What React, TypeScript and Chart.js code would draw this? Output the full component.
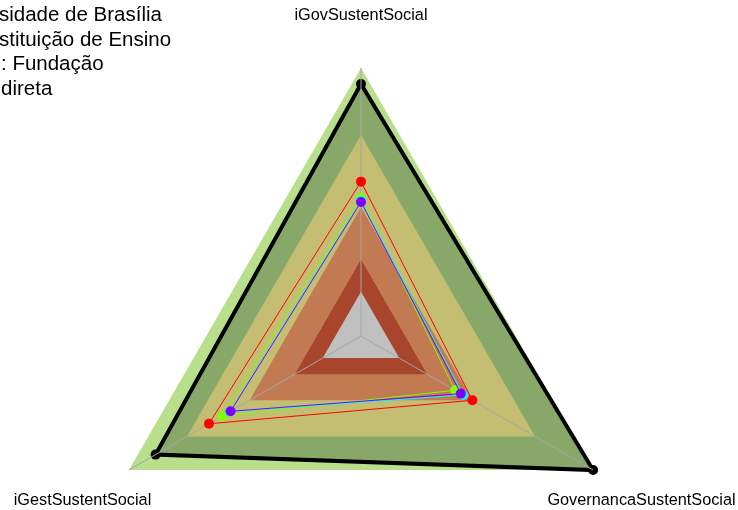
import React, { useEffect, useRef } from 'react';
import { Chart, registerables } from 'chart.js';

Chart.register(...registerables);

// Axes, clockwise from the top
const axisLabels = ['iGovSustentSocial', 'GovernancaSustentSocial', 'iGestSustentSocial'];

// Legend text (left part is cut off in the original)
const legendLines = ['sidade de Brasília', 'stituição de Ensino', ': Fundação', 'direta'];

// Background bands (levels of the index)
const bandOuter = [1, 1, 1];
const bandKhaki = [0.75, 0.75, 0.75];
const bandOrange = [0.48, 0.48, 0.48];
const bandDarkRed = [0.285, 0.285, 0.285];
const bandGrey = [0.165, 0.165, 0.165];

// Series
const seriesBlack = [0.94, 1.0, 0.885];
const seriesRed = [0.576, 0.48, 0.655];
const seriesGreen = [0.515, 0.405, 0.597];
const seriesCyan = [0.505, 0.44, 0.565];
const seriesPurple = [0.5, 0.43, 0.562];

const FONT = '"Liberation Sans", Arial, sans-serif';

function band(data: number[], color: string, order: number) {
  return {
    data,
    backgroundColor: color,
    borderColor: color,
    borderWidth: 0,
    pointRadius: 0,
    fill: true,
    order,
  };
}

function series(data: number[], color: string, order: number, width = 1, radius = 5) {
  return {
    data,
    borderColor: color,
    backgroundColor: color,
    borderWidth: width,
    pointRadius: radius,
    pointBorderWidth: 0,
    pointBackgroundColor: color,
    fill: false,
    order,
  };
}

const GREY_INDEX = 5;

const overlay = {
  id: 'overlay',
  afterDatasetDraw(chart: any, args: any) {
    if (args.index !== GREY_INDEX) return;
    const scale = chart.scales.r;
    const ctx = chart.ctx;
    ctx.save();
    ctx.strokeStyle = '#a6a6a6';
    ctx.lineWidth = 1;
    chart.data.labels.forEach((_: string, i: number) => {
      const p = scale.getPointPositionForValue(i, 1);
      ctx.beginPath();
      ctx.moveTo(scale.xCenter, scale.yCenter);
      ctx.lineTo(p.x, p.y);
      ctx.stroke();
    });
    ctx.restore();
  },
  afterDraw(chart: any) {
    const scale = chart.scales.r;
    const ctx = chart.ctx;
    ctx.save();
    ctx.fillStyle = '#000';
    ctx.font = `16.3px ${FONT}`;
    ctx.textAlign = 'center';
    ctx.textBaseline = 'middle';
    chart.data.labels.forEach((label: string, i: number) => {
      const p = scale.getPointPosition(i, scale.drawingArea * 1.2);
      ctx.fillText(label, p.x + (i === 1 ? 2 : 0), p.y + (i === 0 ? 1 : 4));
    });
    ctx.font = `20.5px ${FONT}`;
    ctx.textAlign = 'left';
    ctx.textBaseline = 'alphabetic';
    legendLines.forEach((t, i) => {
      ctx.fillText(t, i >= 2 ? 1 : -1, 21 + i * 24.5);
    });
    ctx.restore();
  },
};

export default function App() {
  const ref = useRef<HTMLCanvasElement>(null);
  useEffect(() => {
    const chart = new Chart(ref.current as HTMLCanvasElement, {
      type: 'radar',
      data: {
        labels: axisLabels,
        datasets: [
          band(bandOuter, '#b7df8c', 12) as any,
          { ...series(seriesBlack, '#000000', 11, 4, 5), backgroundColor: '#88a869', fill: true },
          band(bandKhaki, '#c4be72', 10),
          band(bandOrange, '#c17a51', 9),
          band(bandDarkRed, '#a9442d', 8),
          band(bandGrey, '#c0c0c0', 7),
          series(seriesRed, '#ff0000', 4),
          series(seriesGreen, '#80ff00', 3),
          series(seriesCyan, '#00ffff', 2),
          series(seriesPurple, '#8000ff', 1),
        ],
      },
      options: {
        responsive: false,
        animation: false,
        layout: { padding: { left: 93, top: 68, right: 109, bottom: 96 } },
        plugins: {
          legend: { display: false },
          tooltip: { enabled: false },
          title: { display: false },
        },
        elements: { line: { tension: 0 } },
        scales: {
          r: {
            min: 0,
            max: 1,
            ticks: { display: false },
            grid: { display: false },
            angleLines: { display: false },
            pointLabels: { display: false },
          },
        },
      } as any,
      plugins: [overlay],
    });
    return () => chart.destroy();
  }, []);
  return (
    <div
      style={{
        position: 'fixed',
        left: 0,
        top: 0,
        width: 738,
        height: 510,
        overflow: 'hidden',
        background: '#ffffff',
      }}
    >
      <canvas ref={ref} width={738} height={700} style={{ display: 'block' }} />
    </div>
  );
}
